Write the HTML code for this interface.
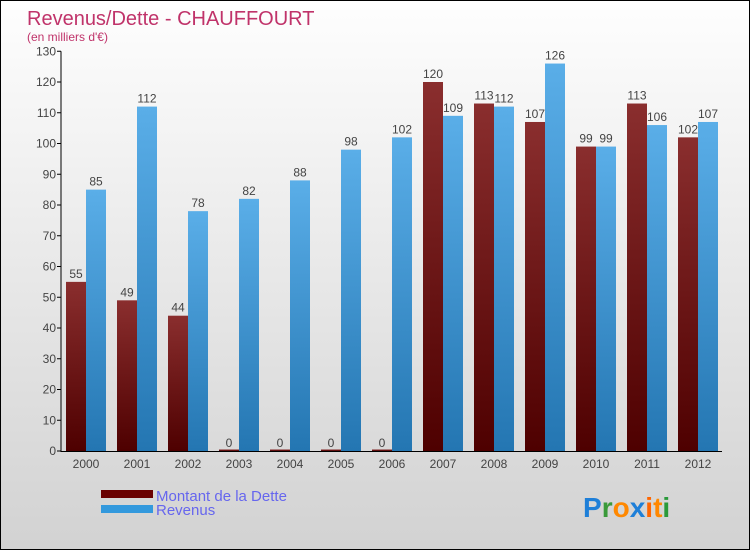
<!DOCTYPE html>
<html><head><meta charset="utf-8"><style>
body{margin:0}
#c{width:750px;height:550px;position:relative;box-sizing:border-box;border:1px solid #000;background:linear-gradient(#fefefe,#d2d2d2);font-family:"Liberation Sans",sans-serif;overflow:hidden}
svg{position:absolute;left:0;top:0}
</style></head><body>
<div id="c">
<svg id="s" width="750" height="550">
<defs>
<linearGradient id="gd" x1="0" y1="0" x2="0" y2="1"><stop offset="0" stop-color="#8a2e2e"/><stop offset="1" stop-color="#4e0000"/></linearGradient>
<linearGradient id="gr" x1="0" y1="0" x2="0" y2="1"><stop offset="0" stop-color="#5aaee8"/><stop offset="1" stop-color="#2476b2"/></linearGradient>
</defs>
<text x="26" y="24" font-size="20" fill="#c0336a">Revenus/Dette - CHAUFFOURT</text>
<text x="26" y="40" font-size="12" fill="#c0336a">(en milliers d'€)</text>
<g id="bars"></g>
<g id="axes"></g>
<rect x="100" y="489" width="52" height="8" fill="#6a0000"/>
<rect x="100" y="504" width="52" height="8" fill="#3399dd"/>
<text x="155" y="500" font-size="15" fill="#6666ee">Montant de la Dette</text>
<text x="155" y="514" font-size="15" fill="#6666ee">Revenus</text>
<text x="582" y="516" font-size="28" font-weight="bold"><tspan fill="#1e7fd8">P</tspan><tspan fill="#3a9a3a">r</tspan><tspan fill="#ff8800">o</tspan><tspan fill="#1e7fd8">x</tspan><tspan fill="#ff6600">i</tspan><tspan fill="#ff8800">t</tspan><tspan fill="#2a9a3a">i</tspan></text>
</svg></div>
<script>
const years=["2000","2001","2002","2003","2004","2005","2006","2007","2008","2009","2010","2011","2012"];
const dette=[55,49,44,0,0,0,0,120,113,107,99,113,102];
const revenus=[85,112,78,82,88,98,102,109,112,126,99,106,107];
const ticks=[0,10,20,30,40,50,60,70,80,90,100,110,120,130];
const NS="http://www.w3.org/2000/svg";
const y0=450,pxPer=3.075,x0=60,step=51;
function yS(v){return y0-v*pxPer;}
function xG(i){return x0+5+i*step;}
function mk(t,a){const e=document.createElementNS(NS,t);for(const k in a)e.setAttribute(k,a[k]);return e;}
const bars=document.getElementById('bars'),axes=document.getElementById('axes');
years.forEach((yr,i)=>{
 const x=xG(i);
 [[dette[i],x,'url(#gd)','dette'],[revenus[i],x+20,'url(#gr)','revenus']].forEach(([v,bx,f,n])=>{
  const h=Math.max(v*pxPer,1.5);
  const r=mk('rect',{x:bx,y:y0-h,width:20,height:h,fill:f});
  
  
  bars.appendChild(r);
  const t=mk('text',{x:bx+10,y:yS(v)-4,'font-size':12,'text-anchor':'middle',fill:'#444'});
  t.textContent=v;
  
  
  bars.appendChild(t);
 });
 const l=mk('text',{x:x+20,y:467,'font-size':12,'text-anchor':'middle',fill:'#444'});
 l.textContent=yr;
 
 
 axes.appendChild(l);
});
ticks.forEach(v=>{
 const y=yS(v);
 const tk=mk('line',{x1:56,x2:60,y1:y,y2:y,stroke:'#000'});
 
 
 axes.appendChild(tk);
 const t=mk('text',{x:55,y:y+4,'font-size':12,'text-anchor':'end',fill:'#444'});
 t.textContent=v;
 
 
 axes.appendChild(t);
});
const ya=mk('line',{x1:60,x2:60,y1:yS(130),y2:451,stroke:'#000'});


axes.appendChild(ya);
const xa=mk('line',{x1:60,x2:721,y1:450.5,y2:450.5,stroke:'#000'});


axes.appendChild(xa);
</script>
</body></html>
